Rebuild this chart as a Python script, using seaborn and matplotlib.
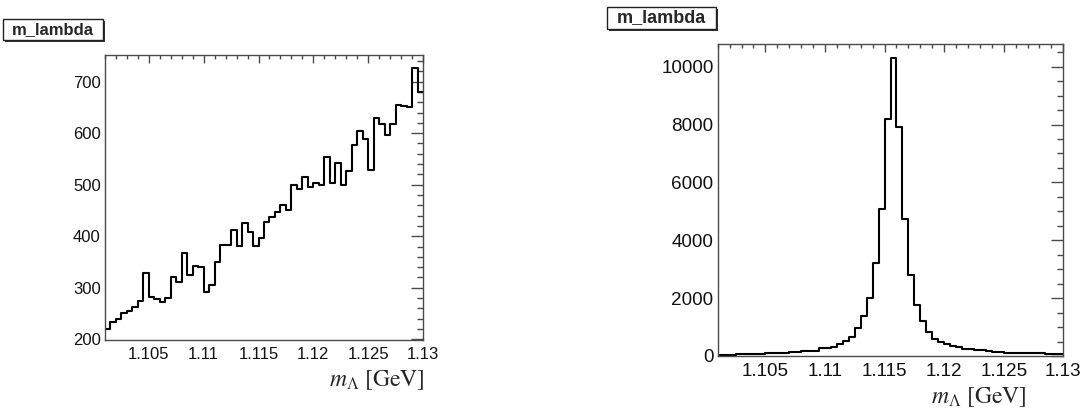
import numpy as np
import pandas as pd
import matplotlib
matplotlib.use("Agg")
import matplotlib.pyplot as plt
from matplotlib.patches import Rectangle
from matplotlib.ticker import FixedLocator, FuncFormatter
import seaborn as sns

# Histogram binning for the Lambda invariant mass (GeV)
mass_min = 1.101
mass_max = 1.13
n_bins = 58

# Candidate counts per bin, before selection (left) and after selection (right)
counts_before = [221, 234, 239, 252, 255, 262, 275, 328, 283, 278,
                 272, 281, 320, 312, 367, 324, 343, 341, 292, 306,
                 351, 383, 383, 413, 381, 426, 409, 381, 397, 427,
                 437, 448, 461, 451, 500, 492, 515, 496, 503, 500,
                 553, 503, 543, 500, 527, 577, 604, 588, 528, 630,
                 617, 597, 617, 655, 653, 651, 726, 679]
counts_after = [45, 45, 50, 55, 65, 70, 75, 80, 95, 100,
                110, 120, 135, 150, 160, 175, 190, 280, 260, 320,
                400, 510, 670, 960, 1380, 2000, 3200, 5090, 8200, 10290,
                7900, 4720, 2790, 1750, 1200, 830, 600, 500, 420, 360,
                320, 250, 235, 205, 195, 160, 150, 125, 120, 115,
                110, 100, 95, 90, 90, 60, 80, 65]

x_ticks = [1.105, 1.11, 1.115, 1.12, 1.125, 1.13]
y_ticks_before = [200, 300, 400, 500, 600, 700]
y_ticks_after = [0, 2000, 4000, 6000, 8000, 10000]
title = "m_lambda"
x_label = r"$m_{\Lambda}\ \mathrm{[GeV]}$"

sns.set_style("white")
plt.rcParams["font.family"] = ["Liberation Sans", "DejaVu Sans"]
plt.rcParams["mathtext.fontset"] = "stix"

W, H = 1087, 413
fig = plt.figure(figsize=(W / 100, H / 100), dpi=100)
fig.patch.set_facecolor("white")

edges = np.linspace(mass_min, mass_max, n_bins + 1)
centers = 0.5 * (edges[:-1] + edges[1:])

axis_grey = "#4a4a4a"


def frame(ax, counts, ylim, yticks, yminor_step, label_size):
    df = pd.DataFrame({"mass": centers, "count": np.asarray(counts, float)})
    sns.histplot(data=df, x="mass", weights="count", bins=edges.tolist(),
                 element="step", fill=False, color="black", linewidth=1.5,
                 ax=ax)
    ax.set_xlim(mass_min, mass_max)
    ax.set_ylim(*ylim)
    ax.set_xlabel("")
    ax.set_ylabel("")
    ax.xaxis.set_major_locator(FixedLocator(x_ticks))
    ax.xaxis.set_minor_locator(FixedLocator(np.arange(1.101, 1.1301, 0.001)))
    ax.xaxis.set_major_formatter(FuncFormatter(lambda v, p: f"{v:g}"))
    ax.yaxis.set_major_locator(FixedLocator(yticks))
    ax.yaxis.set_minor_locator(FixedLocator(np.arange(yticks[0] - 5 * yminor_step,
                                                      ylim[1], yminor_step)))
    ax.tick_params(axis="both", which="both", direction="in", top=True,
                   right=True, color=axis_grey, width=1.0,
                   labelsize=label_size, labelcolor="#111111")
    ax.tick_params(axis="y", which="major", length=8.5, pad=3)
    ax.tick_params(axis="y", which="minor", length=4.3)
    ax.tick_params(axis="x", which="major", length=6, pad=5)
    ax.tick_params(axis="x", which="minor", length=3)
    for s in ax.spines.values():
        s.set_color(axis_grey)
        s.set_linewidth(1.0)


def title_box(x0, y0, x1, y1, size):
    # pixel coordinates measured from the top-left corner
    fx0, fx1 = x0 / W, x1 / W
    fy0, fy1 = 1 - y1 / H, 1 - y0 / H
    shadow = Rectangle((fx0 + 2 / W, fy0 - 2 / H), fx1 - fx0, fy1 - fy0,
                       transform=fig.transFigure, facecolor="#333333",
                       edgecolor="none", zorder=1)
    box = Rectangle((fx0, fy0), fx1 - fx0, fy1 - fy0,
                    transform=fig.transFigure, facecolor="white",
                    edgecolor="#222222", linewidth=1.0, zorder=2)
    fig.patches.extend([shadow, box])
    fig.text((fx0 + fx1) / 2, (fy0 + fy1) / 2, title, ha="center",
             va="center", fontsize=size, fontweight="bold", zorder=3)


ax1 = fig.add_axes([105 / W, 1 - 340 / H, 318 / W, 285 / H])
frame(ax1, counts_before, (198.7, 751.7), y_ticks_before, 20, 12.0)

ax2 = fig.add_axes([717.7 / W, 1 - 356 / H, 345.6 / W, 311.7 / H])
frame(ax2, counts_after, (0, 10772), y_ticks_after, 500, 13.6)

title_box(3.3, 19.3, 102.7, 40, 12)
title_box(607.3, 7.3, 716, 28.7, 13)

fig.text(425 / W, 1 - 380 / H, x_label, ha="right", va="center", fontsize=17)
fig.text(1027 / W, 1 - 397 / H, x_label, ha="right", va="center", fontsize=17)

fig.savefig("out.png", dpi=100, facecolor="white")
